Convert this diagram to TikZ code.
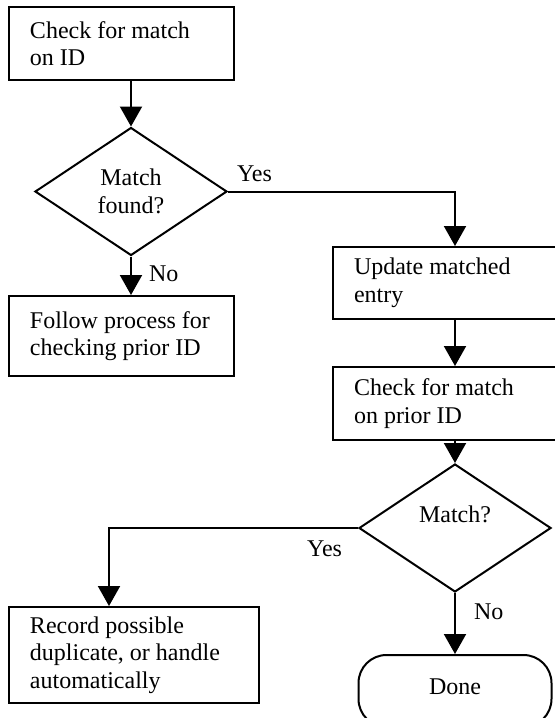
\documentclass[tikz,border=0pt]{standalone}
\usepackage{fontspec}
\setmainfont{Liberation Serif}
\usetikzlibrary{shapes.geometric, arrows.meta}

\begin{document}
\begin{tikzpicture}[x=0.5pt, y=-0.5pt, line width=1pt,
    font=\fontsize{12}{13.8}\selectfont,
    execute at begin node={\spaceskip=0pt\xspaceskip=0pt},
    procbox/.style={draw, rectangle, align=left, inner xsep=10.5pt, inner ysep=0pt},
    decision/.style={draw, diamond, align=center, inner sep=0pt, minimum width=96pt, minimum height=64pt},
    endbox/.style={draw, rectangle, rounded corners=14pt, minimum width=96.5pt, minimum height=36pt, text height=8.2pt, text depth=5pt},
    arr/.style={-{Triangle[length=10pt, width=11pt]}},
    lbl/.style={inner sep=0pt}]
    \path[use as bounding box, clip] (0,0) rectangle (555,718);

    \node [procbox, text width=91.5pt, minimum height=36.5pt] (chkid) at (121.5,43.5) {Check for match\\on ID};
    \node [decision] (found) at (131,191.5) {Match\\found?};
    \node [procbox, text width=91.5pt, minimum height=40pt] (follow) at (121.5,336) {Follow process for\\checking prior ID};
    \node [procbox, text width=101pt, minimum height=36pt] (update) at (455,283) {Update matched\\entry};
    \node [procbox, text width=101pt, minimum height=36.5pt] (chkprior) at (455,403.5) {Check for match\\on prior ID};
    \node [decision] (match) at (455,528) {Match?\\\mbox{}};
    \node [procbox, text width=104pt, minimum height=48pt] (record) at (134,655) {Record possible\\duplicate, or handle\\automatically};
    \node [endbox] (done) at (455,691) {Done};

    \draw [arr] (found.north |- chkid.south) -- (found.north);
    \draw [arr] (found.south) node [lbl, anchor=base west, xshift=8.5pt, yshift=-12.5pt] {No} -- (found.south |- follow.north);
    \draw [arr] (found.east) node [lbl, anchor=base west, xshift=4pt, yshift=5pt] {Yes} -| (update.north);
    \draw [arr] (update.south) -- (chkprior.north);
    \draw [arr] (chkprior.south) -- (match.north);
    \draw [arr] (match.south) node [lbl, anchor=base west, xshift=9pt, yshift=-13pt] {No} -- (done.north);
    \draw [arr] (match.west) node [lbl, anchor=base east, xshift=-7.5pt, yshift=-14pt] {Yes} -| ([xshift=-12.5pt]record.north);
\end{tikzpicture}
\end{document}
